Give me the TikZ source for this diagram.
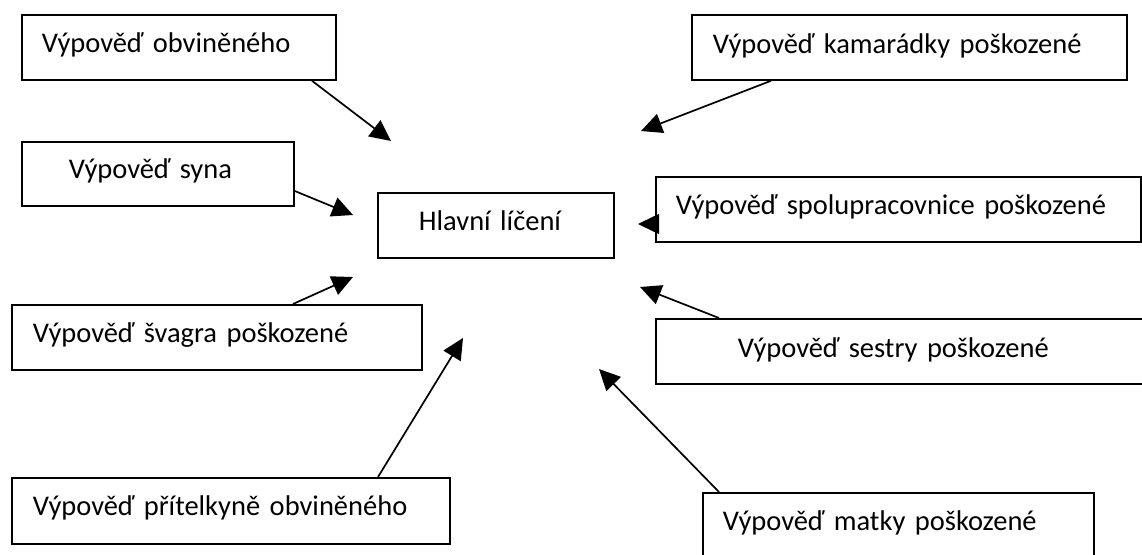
\documentclass[tikz,border=0pt]{standalone}
\usepackage{fontspec}
\setmainfont{Carlito}
\usetikzlibrary{arrows.meta,calc}
\tikzset{
  box/.style={draw=black, line width=1.8pt, rectangle, inner sep=0pt, anchor=north west,
    align=left, font=\fontsize{28.5}{34}\selectfont},
  conn/.style={line width=1.7pt, -{Triangle[length=21pt,width=20pt]}}
}
\begin{document}
\begin{tikzpicture}[x=1pt,y=-1pt]
\clip (0,0) rectangle (1142,554);
\fill[white] (0,0) rectangle (1142,554);

\node[box, text width=314pt, text height=38pt, text depth=27pt] (obv) at (21,14) {\hspace*{20pt}Výpověď obviněného};
\node[box, text width=435pt, text height=39pt, text depth=26pt] (kam) at (691,14) {\hspace*{21pt}Výpověď kamarádky poškozené};
\node[box, text width=272pt, text height=37pt, text depth=27pt] (syna) at (21,141) {\hspace*{47pt}Výpověď syna};
\node[box, text width=236pt, text height=38pt, text depth=27pt] (hl) at (377,192) {\hspace*{41pt}Hlavní líčení};
\node[box, text width=485pt, text height=38pt, text depth=27pt] (spol) at (655,176) {\hspace*{20pt}Výpověď spolupracovnice poškozené};
\node[box, text width=410pt, text height=38pt, text depth=27pt] (svag) at (11,304) {\hspace*{21pt}Výpověď švagra poškozené};
\node[box, text width=520pt, text height=39pt, text depth=26pt] (ses) at (655,318) {\hspace*{82pt}Výpověď sestry poškozené};
\node[box, text width=438pt, text height=38pt, text depth=28pt] (pri) at (11,477) {\hspace*{21pt}Výpověď přítelkyně obviněného};
\node[box, text width=391pt, text height=38pt, text depth=42pt] (mat) at (702,492) {\hspace*{20pt}Výpověď matky poškozené};

\coordinate (t1) at (391,141);
\coordinate (t2) at (641,131);
\coordinate (t3) at (353,215);
\coordinate (t4) at (638,224);
\coordinate (t5) at (353,277);
\coordinate (t6) at (640,287);
\coordinate (t7) at (463,338);
\coordinate (t8) at (599,369);

\draw[conn] ($(obv.south west)+(291,0)$) -- (t1);
\draw[conn] ($(kam.south west)+(80,0)$) -- (t2);
\draw[conn] ($(syna.north east)+(0,50)$) -- (t3);
\draw[conn] ($(spol.north west)+(0,48)$) -- (t4);
\draw[conn] ($(svag.north west)+(282,0)$) -- (t5);
\draw[conn] ($(ses.north west)+(64,0)$) -- (t6);
\draw[conn] ($(pri.north west)+(367,0)$) -- (t7);
\draw[conn] ($(mat.north west)+(17,0)$) -- (t8);
\end{tikzpicture}
\end{document}
